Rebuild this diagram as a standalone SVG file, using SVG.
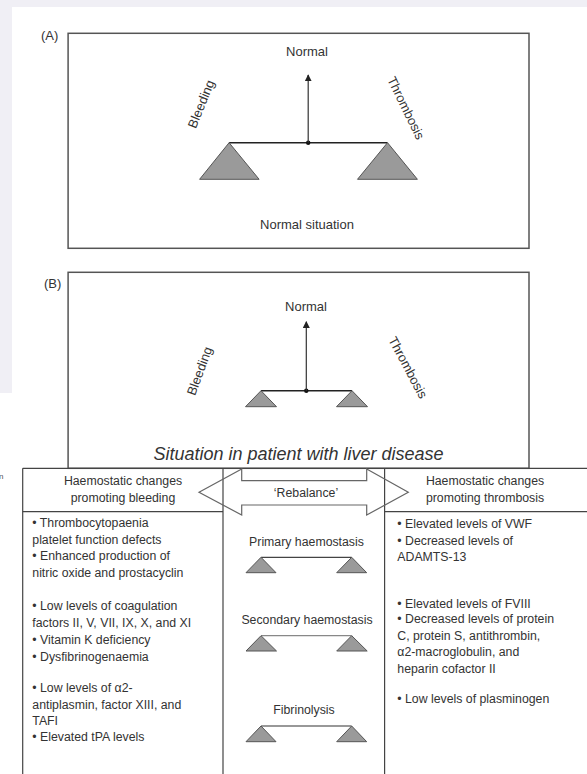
<svg xmlns="http://www.w3.org/2000/svg" width="587" height="774" viewBox="0 0 587 774">
<style>
text{font-family:"Liberation Sans",Arial,sans-serif;fill:#333}
.lbl{font-size:13px}
.tx{font-size:12.3px}
.hd{font-size:12.3px;text-anchor:middle}
.mid{font-size:12.3px;text-anchor:middle}
.frame{fill:none;stroke:#555;stroke-width:1.5}
.tbl{fill:none;stroke:#444;stroke-width:1.2}
.beam{stroke:#222;stroke-width:1.5;fill:none}
.tri{fill:#9a9a9a;stroke:#555;stroke-width:1}
.ax{stroke:#333;stroke-width:1.2;fill:none;marker-end:url(#ah)}
</style>
<defs>
<marker id="ah" viewBox="0 0 10 10" refX="9" refY="5" markerWidth="7" markerHeight="7" markerUnits="userSpaceOnUse" orient="auto">
<path d="M0,0 L10,5 L0,10 Z" fill="#222"/>
</marker>
</defs>
<rect x="0" y="0" width="587" height="774" fill="#fff"/>
<rect x="0" y="0" width="587" height="7" fill="#f0eff5"/>
<rect x="0" y="0" width="12" height="393" fill="#f0eff5"/>
<text x="-1" y="479" style="font-size:8px;fill:#555">n</text>

<g id="panelA">
<rect class="frame" x="68.1" y="33.3" width="460.9" height="215"/>
<text class="lbl" x="41" y="39.5">(A)</text>
<text class="lbl" x="307" y="56" text-anchor="middle">Normal</text>
<text class="lbl" transform="translate(201,104) rotate(-68)" text-anchor="middle" dominant-baseline="central">Bleeding</text>
<text class="lbl" transform="translate(406,108) rotate(64)" text-anchor="middle" dominant-baseline="central">Thrombosis</text>
<line class="beam" x1="229.1" y1="142.7" x2="387.5" y2="142.7"/>
<polygon class="tri" points="229.1,142.7 199.6,179.3 259.1,179.3"/>
<polygon class="tri" points="387.5,142.7 357.5,179.3 417.4,179.3"/>
<circle cx="308.2" cy="142.7" r="2.2" fill="#111"/>
<text class="lbl" x="307" y="229" text-anchor="middle">Normal situation</text>
</g>

<g id="panelB">
<rect class="frame" x="68.1" y="272.3" width="460.9" height="196"/>
<text class="lbl" x="44" y="288">(B)</text>
<text class="lbl" x="306" y="311" text-anchor="middle">Normal</text>
<text class="lbl" transform="translate(199.5,371) rotate(-70)" text-anchor="middle" dominant-baseline="central">Bleeding</text>
<text class="lbl" transform="translate(408,367.5) rotate(62)" text-anchor="middle" dominant-baseline="central">Thrombosis</text>
<line class="beam" x1="261" y1="390.7" x2="352" y2="390.7"/>
<polygon class="tri" points="261,390.7 245.5,406.7 276.5,406.7"/>
<polygon class="tri" points="352,390.7 336.5,406.7 367.5,406.7"/>
<circle cx="306.3" cy="390.7" r="2.2" fill="#111"/>
<text x="298.5" y="459.5" text-anchor="middle" style="font-size:18px;font-style:italic;fill:#333">Situation in patient with liver disease</text>
</g>

<g id="table-frame">
<line class="tbl" x1="22.7" y1="468.3" x2="587" y2="468.3"/>
<line class="tbl" x1="22.7" y1="468.3" x2="22.7" y2="774"/>
<line class="tbl" x1="223" y1="468.3" x2="223" y2="774"/>
<line class="tbl" x1="384.6" y1="468.3" x2="384.6" y2="774"/>
<line class="tbl" x1="22.7" y1="511.7" x2="223" y2="511.7"/>
<line class="tbl" x1="384.6" y1="511.7" x2="587" y2="511.7"/>
</g>

<g id="header-bleeding">
<text class="hd" x="123" y="485">Haemostatic changes</text>
<text class="hd" x="123" y="501.5">promoting bleeding</text>
</g>

<g id="header-thrombosis">
<text class="hd" x="485" y="485">Haemostatic changes</text>
<text class="hd" x="485" y="501.5">promoting thrombosis</text>
</g>

<g id="list-bleeding">
<text class="tx" x="32.3" y="526.5">• Thrombocytopaenia</text>
<text class="tx" x="32.3" y="544">platelet function defects</text>
<text class="tx" x="32.3" y="560">• Enhanced production of</text>
<text class="tx" x="32.3" y="576.5">nitric oxide and prostacyclin</text>
<text class="tx" x="32.3" y="610">• Low levels of coagulation</text>
<text class="tx" x="32.3" y="627">factors II, V, VII, IX, X, and XI</text>
<text class="tx" x="32.3" y="643.5">• Vitamin K deficiency</text>
<text class="tx" x="32.3" y="661">• Dysfibrinogenaemia</text>
<text class="tx" x="32.3" y="692">• Low levels of α2-</text>
<text class="tx" x="32.3" y="708.5">antiplasmin, factor XIII, and</text>
<text class="tx" x="32.3" y="725">TAFI</text>
<text class="tx" x="32.3" y="741">• Elevated tPA levels</text>
</g>

<g id="list-thrombosis">
<text class="tx" x="397.3" y="528">• Elevated levels of VWF</text>
<text class="tx" x="397.3" y="544.5">• Decreased levels of</text>
<text class="tx" x="397.3" y="561">ADAMTS-13</text>
<text class="tx" x="397.3" y="607.5">• Elevated levels of FVIII</text>
<text class="tx" x="397.3" y="623">• Decreased levels of protein</text>
<text class="tx" x="397.3" y="639.5">C, protein S, antithrombin,</text>
<text class="tx" x="397.3" y="656">α2-macroglobulin, and</text>
<text class="tx" x="397.3" y="672.5">heparin cofactor II</text>
<text class="tx" x="397.3" y="703">• Low levels of plasminogen</text>
</g>

<g id="primary">
<text class="mid" x="306.5" y="546">Primary haemostasis</text>
<line class="beam" x1="261" y1="557.3" x2="351.7" y2="557.3" style="stroke:#444;stroke-width:1.2"/>
<polygon class="tri" points="261,557.3 246,572.7 276,572.7"/>
<polygon class="tri" points="351.7,557.3 336.7,572.7 366.7,572.7"/>
</g>

<g id="secondary">
<text class="mid" x="307" y="623.5">Secondary haemostasis</text>
<line class="beam" x1="261" y1="635.7" x2="351.7" y2="635.7" style="stroke:#888;stroke-width:1.2"/>
<polygon class="tri" points="261,635.7 246,651 276.5,651"/>
<polygon class="tri" points="351.7,635.7 336.7,651 367.2,651"/>
</g>

<g id="fibrinolysis">
<text class="mid" x="304" y="714">Fibrinolysis</text>
<line class="beam" x1="261" y1="726" x2="351.7" y2="726" style="stroke:#333;stroke-width:1.2"/>
<polygon class="tri" points="261,726 246,741.7 276,741.7"/>
<polygon class="tri" points="351.7,726 336.7,741.7 366.7,741.7"/>
</g>

<g id="connectors">
<line class="ax" x1="308.2" y1="142.7" x2="308.2" y2="75"/>
<line class="ax" x1="306.3" y1="390.7" x2="306.3" y2="321.7"/>
<path d="M199,492.3 L241.7,469 L241.7,480.7 L366.7,480.7 L366.7,469 L408.3,492.3 L366.7,515 L366.7,505 L241.7,505 L241.7,515 Z" fill="none" stroke="#666" stroke-width="1.2"/>
<text class="mid" x="306" y="497">‘Rebalance’</text>
</g>
</svg>
